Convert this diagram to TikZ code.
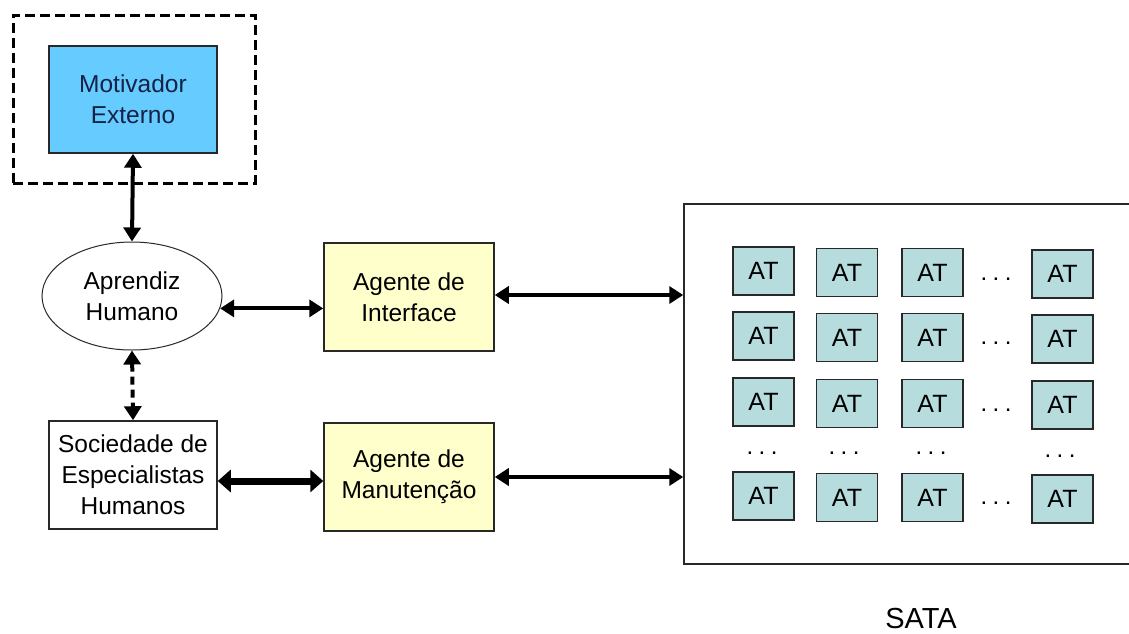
\documentclass[tikz,border=0pt]{standalone}
\usepackage{fontspec}
\setmainfont{Liberation Sans}
\usetikzlibrary{arrows.meta,shapes.geometric}
\definecolor{motblue}{RGB}{102,204,255}
\definecolor{motnavy}{RGB}{20,34,70}
\definecolor{agyellow}{RGB}{255,255,204}
\definecolor{atfill}{RGB}{182,220,222}
\definecolor{edge}{RGB}{40,40,40}
\begin{document}
\begin{tikzpicture}[x=1pt,y=-1pt,
  txt/.style={font=\fontsize{24.5}{31}\selectfont, align=center},
  box/.style={txt, rectangle, draw=edge, line width=1.5pt, inner sep=0pt,
    minimum width=168pt, minimum height=108pt},
  agbox/.style={box, fill=agyellow, minimum width=170pt},
  atbox/.style={rectangle, draw=edge, line width=1.8pt, fill=atfill, inner sep=0pt,
    minimum width=61pt, minimum height=48pt, font=\fontsize{25}{28}\selectfont},
  dotsnode/.style={inner sep=0pt, font=\fontsize{24}{28}\selectfont},
  arr/.style={line width=4pt, {Triangle[length=14pt,width=17pt]}-{Triangle[length=14pt,width=17pt]}},
  thickarr/.style={line width=7pt, {Triangle[length=13pt,width=22pt]}-{Triangle[length=13pt,width=22pt]}},
  dasharr/.style={arr, dash pattern=on 8pt off 5pt}
]
\useasboundingbox (0,0) rectangle (1129,633);

% dashed frame and external motivator
\node[rectangle, draw=black, line width=3pt, dash pattern=on 10pt off 5pt,
  minimum width=242pt, minimum height=168pt, inner sep=0pt] (frame) at (134,99) {};
\node[box, fill=motblue, text=motnavy, minimum height=107pt] (mot) at (133,99.5) {Motivador\\Externo};

% learner
\node[txt, ellipse, draw=edge, line width=1pt, inner sep=0pt,
  minimum width=180pt, minimum height=108pt] (ell) at (132,296) {Aprendiz\\Humano};

% society of experts
\node[box, fill=white] (soc) at (133,475) {Sociedade de\\Especialistas\\Humanos};

% agents
\node[agbox] (iface) at (409,297) {Agente de\\Interface};
\node[agbox] (man) at (409,477) {Agente de\\Manuten\c{c}\~ao};

% SATA box (right side beyond the page edge)
\node[rectangle, draw=edge, line width=1.5pt, inner sep=0pt,
  minimum width=460pt, minimum height=360pt] (satabox) at (914,384) {};
\node[anchor=base, inner sep=0pt, font=\fontsize{29}{32}\selectfont] (sata) at (921,628) {SATA};

% AT grid
\foreach \c/\x/\dy in {1/763.5/0, 2/847/1.5, 3/932.5/1.5, 4/1062.5/3}{
  \foreach \r/\y in {1/271, 2/336, 3/402, 5/496}{
    \node[atbox] (at-\r-\c) at (\x,\y+\dy) {AT};
  }
}
\foreach \r/\y in {1/279, 2/343, 3/410, 5/503}{
  \node[dotsnode] (dr-\r) at (996,\y) {.\hspace{5.5pt}.\hspace{5.5pt}.};
}
\foreach \c/\x/\y in {1/762/453, 2/844/453, 3/931/453, 4/1060/456}{
  \node[dotsnode] (dc-\c) at (\x,\y) {.\hspace{5.5pt}.\hspace{5.5pt}.};
}

% connectors
\draw[arr] (mot.south) -- (ell.north);
\draw[arr] (ell.-8) -- (ell.-8 -| iface.west);
\draw[arr] ([yshift=2pt]iface.east) -- ([yshift=2pt]iface.east -| satabox.west);
\draw[dasharr] (ell.south) -- (soc.north);
\draw[thickarr] ([yshift=-6pt]soc.east) -- ([yshift=-6pt]soc.east -| man.west);
\draw[arr] (man.east) -- (man.east -| satabox.west);
\end{tikzpicture}
\end{document}
